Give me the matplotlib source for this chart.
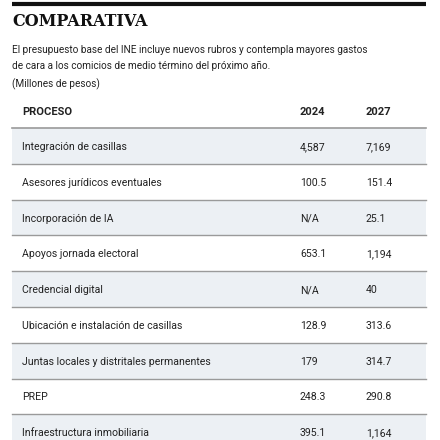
import matplotlib.pyplot as plt

procesos = ["Integración de casillas", "Asesores jurídicos eventuales", "Incorporación de IA",
            "Apoyos jornada electoral", "Credencial digital", "Ubicación e instalación de casillas",
            "Juntas locales y distritales permanentes", "PREP", "Infraestructura inmobiliaria"]
v2024 = ["4,587", "100.5", "N/A", "653.1", "N/A", "128.9", "179", "248.3", "395.1"]
v2027 = ["7,169", "151.4", "25.1", "1,194", "40", "313.6", "314.7", "290.8", "1,164"]

fig = plt.figure(figsize=(4.4, 4.4), dpi=100)
ax = fig.add_axes([0, 0, 1, 1])
ax.set_xlim(0, 440)
ax.set_ylim(440, 0)
ax.axis("off")

font = ["Roboto", "DejaVu Sans"]

# top rule and title
ax.plot([12, 426], [4, 4], color="#111111", lw=3, solid_capstyle="butt")
ax.text(12, 21, "COMPARATIVA", fontsize=11.5, fontweight="bold", family="DejaVu Serif",
        va="center", color="#111111")
ax.text(12, 50, "El presupuesto base del INE incluye nuevos rubros y contempla mayores gastos",
        fontsize=7.2, va="center", family=font, color="#222222")
ax.text(12, 66, "de cara a los comicios de medio término del próximo año.",
        fontsize=7.2, va="center", family=font, color="#222222")
ax.text(12, 84, "(Millones de pesos)", fontsize=7.2, va="center", family=font, color="#222222")

x_lab, x_a, x_b = 22, 300, 366
for x, s in ((x_lab, "PROCESO"), (x_a, "2024"), (x_b, "2027")):
    ax.text(x, 112, s, fontsize=8, fontweight="bold", va="center", family=font, color="#222222")

top, h = 128, 35.8
ax.plot([12, 426], [top, top], color="#9a9a9a", lw=1.2)
for i, (p, a, b) in enumerate(zip(procesos, v2024, v2027)):
    y0 = top + i * h
    if i % 2 == 0:
        ax.add_patch(plt.Rectangle((12, y0), 414, h, color="#ecf0f4", lw=0))
    ax.plot([12, 426], [y0 + h, y0 + h], color="#9a9a9a", lw=1)
    yc = y0 + h / 2 + 1
    for x, s in ((x_lab, p), (x_a, a), (x_b, b)):
        ax.text(x, yc, s, fontsize=7.6, va="center", family=font, color="#222222")

fig.savefig("out.png", dpi=100)
